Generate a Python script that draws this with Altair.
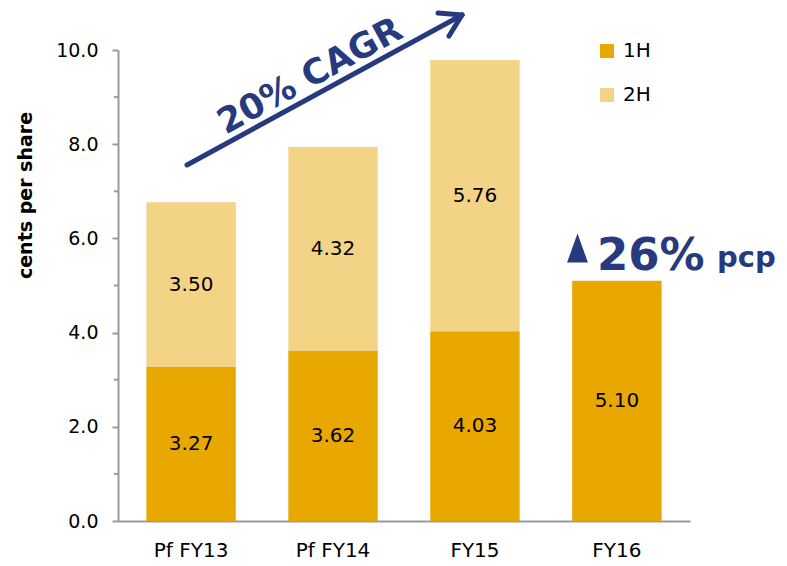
import altair as alt
import pandas as pd

periods = ["Pf FY13", "Pf FY14", "FY15", "FY16"]
h1 = [3.27, 3.62, 4.03, 5.10]
h2 = [3.50, 4.32, 5.76, None]
halves = ["1H", "2H"]
y_major = [0, 2, 4, 6, 8, 10]
y_minor = [1, 3, 5, 7, 9]

C1 = "#E8A800"
C2 = "#F3D385"
NAVY = "#283A7E"
AX = "#9A9A9A"
FONT = "DejaVu Sans"

rows = []
for p, a, b in zip(periods, h1, h2):
    rows.append({"period": p, "half": "1H", "value": a, "ord": 0})
    if b is not None:
        rows.append({"period": p, "half": "2H", "value": b, "ord": 1})
df = pd.DataFrame(rows)

X = alt.X("period:N", sort=periods, title=None,
          scale=alt.Scale(paddingInner=0.37, paddingOuter=0.2),
          axis=alt.Axis(labelAngle=0, ticks=False, labelFontSize=20, labelPadding=19,
                        labelColor="#000", domainColor=AX, domainWidth=2, labelFont=FONT))

yscale = alt.Scale(domain=[0, 10], nice=False)
YAX = alt.Axis(values=y_major, format=".1f", grid=False, tickSize=6, tickWidth=2,
               tickColor=AX, domainColor=AX, domainWidth=2, labelFontSize=19,
               labelPadding=14, labelColor="#000", labelFont=FONT,
               title="cents per share", titleFontSize=19, titleFontWeight="bold",
               titleFont=FONT, titleColor="#000", titleX=-93, titleY=145,
               titleBaseline="middle", titleAlign="center")

bars = alt.Chart(df).mark_bar().encode(
    x=X,
    y=alt.Y("value:Q", stack="zero", scale=yscale, axis=YAX, title="cents per share"),
    color=alt.Color("half:N", scale=alt.Scale(domain=halves, range=[C1, C2]),
                    legend=alt.Legend(title=None, orient="none", legendX=479, legendY=-9,
                                      symbolType="square", symbolSize=196, symbolStrokeWidth=0,
                                      labelFontSize=20, labelFont=FONT, labelColor="#000",
                                      rowPadding=24, labelOffset=6, padding=0)),
    order=alt.Order("ord:Q", sort="ascending"),
)

labels = alt.Chart(df).transform_stack(
    stack="value", groupby=["period"], as_=["y0", "y1"],
    sort=[alt.SortField("ord", order="ascending")]
).transform_calculate(mid="(datum.y0 + datum.y1) / 2").mark_text(
    fontSize=20, font=FONT, color="#000"
).encode(
    x=X,
    y=alt.Y("mid:Q", scale=yscale, axis=YAX, title="cents per share"),
    text=alt.Text("value:Q", format=".2f"),
)

minor = alt.Chart(pd.DataFrame({"v": y_minor})).mark_rule(color=AX, strokeWidth=2).encode(
    y=alt.Y("v:Q", scale=yscale, axis=YAX, title="cents per share"),
    x=alt.value(-4), x2=alt.value(0),
)

one = pd.DataFrame({"a": [0]})
arrow_line = alt.Chart(one).mark_rule(color=NAVY, strokeWidth=5, strokeCap="round").encode(
    x=alt.value(69), y=alt.value(115), x2=alt.value(344), y2=alt.value(-35))
arm1 = alt.Chart(one).mark_rule(color=NAVY, strokeWidth=5, strokeCap="round").encode(
    x=alt.value(344), y=alt.value(-35), x2=alt.value(320), y2=alt.value(-37))
arm2 = alt.Chart(one).mark_rule(color=NAVY, strokeWidth=5, strokeCap="round").encode(
    x=alt.value(344), y=alt.value(-35), x2=alt.value(331), y2=alt.value(-14))

cagr = alt.Chart(one).mark_text(text="20% CAGR", fontSize=35, fontWeight="bold", font=FONT,
                                color=NAVY, angle=331.3, align="center", baseline="middle").encode(
    x=alt.value(192), y=alt.value(26))

tri = alt.Chart(one).mark_point(shape="M0,-1L0.72,1L-0.72,1Z", filled=True, size=841,
                                color=NAVY, opacity=1).encode(
    x=alt.value(459.5), y=alt.value(198))
pct = alt.Chart(one).mark_text(text="26%", fontSize=45, fontWeight="bold", font=FONT,
                               color=NAVY, align="left", baseline="alphabetic").encode(
    x=alt.value(479), y=alt.value(220))
pcp = alt.Chart(one).mark_text(text="pcp", fontSize=29, fontWeight="bold", font=FONT,
                               color=NAVY, align="left", baseline="alphabetic").encode(
    x=alt.value(599), y=alt.value(217))

chart = alt.layer(bars, labels, minor, arrow_line, arm1, arm2, cagr, tri, pct, pcp).properties(
    width=572, height=471,
    autosize=alt.AutoSizeParams(type="none"),
    padding={"left": 110, "top": 42, "right": 89, "bottom": 41},
).configure_view(stroke=None)

chart.save("out.html", embed_options={"renderer": "svg", "actions": False})
